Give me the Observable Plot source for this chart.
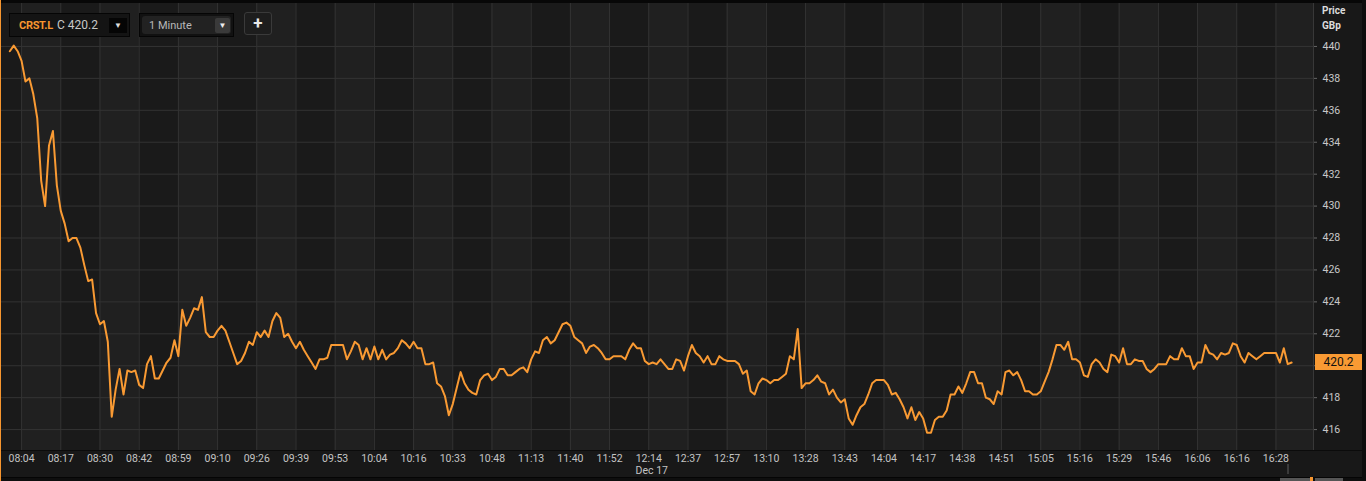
<!DOCTYPE html>
<html><head><meta charset="utf-8">
<script src="https://cdn.jsdelivr.net/npm/d3@7"></script>
<script src="https://cdn.jsdelivr.net/npm/@observablehq/plot@0.6"></script>
<style>
html,body{margin:0;padding:0;background:#121212;}
#wrap{position:relative;width:1366px;height:481px;overflow:hidden;font-family:Roboto,"Noto Sans",sans-serif;}
#wrap svg{position:absolute;left:0;top:0;}
.box{position:absolute;box-sizing:border-box;}
#b1{left:9px;top:13px;width:121px;height:24px;background:#141414;border:1px solid #050505;}
#b1 .tk{position:absolute;left:9px;top:5px;color:#f7962f;font-weight:bold;font-size:11px;letter-spacing:-0.3px;}
#b1 .cl{position:absolute;left:47px;top:4px;color:#c8c8c8;font-size:12px;}
#b1 .dd{position:absolute;left:99px;top:4px;width:18px;height:15px;background:#050505;color:#ddd;font-size:8px;text-align:center;line-height:15px;}
#b2{left:139px;top:13px;width:95px;height:24px;background:#111;border:1px solid #050505;}
#b2 .in{position:absolute;left:2px;top:2px;right:2px;bottom:2px;background:#222;border-radius:3px;}
#b2 .tx{position:absolute;left:9px;top:5px;color:#b8b8b8;font-size:11px;}
#b2 .dd{position:absolute;left:75px;top:4px;width:15px;height:15px;background:#3a3a3a;border-radius:2px;color:#eee;font-size:8px;text-align:center;line-height:15px;}
#b3{left:244px;top:12px;width:28px;height:23px;background:#1d1d1d;border:1px solid #3a3a3a;border-radius:3px;color:#e8e8e8;font-size:17px;font-weight:bold;text-align:center;line-height:21px;}
#hdr{position:absolute;left:1322px;top:3px;color:#dcdcdc;font-size:10px;font-weight:bold;line-height:15px;}
#badge{position:absolute;left:1315px;width:47px;height:16px;background:#f99a33;color:#111;font-size:12px;text-align:center;line-height:16px;}
#lborder{position:absolute;left:0;top:0;width:1px;height:481px;background:#f7962f;}
#topband{position:absolute;left:0;top:0;width:1366px;height:3px;background:#070707;}
#rborder{position:absolute;left:1362px;top:0;width:4px;height:481px;background:#0d0d0d;}
#botband{position:absolute;left:0;top:477px;width:1366px;height:4px;background:#0e0e0e;border-top:1px solid #050505;}
#sb1{position:absolute;left:1280px;top:478px;width:30px;height:3px;background:#555;}
#sb2{position:absolute;left:1310px;top:477px;width:3px;height:4px;background:#f7962f;}
#sb3{position:absolute;left:1315px;top:478px;width:28px;height:3px;background:#555;}
#grip{position:absolute;left:1287px;top:464px;width:2px;height:10px;background:#3a3a3a;}
</style></head><body><div id="wrap"></div>
<script>
const ticker = "CRST.L";
const closeLabel = "C 420.2";
const intervalLabel = "1 Minute";
const axisTitle = ["Price", "GBp"];
const dateLabel = "Dec 17";
const yTicks = [416, 418, 420, 422, 424, 426, 428, 430, 432, 434, 436, 438, 440];
const timeLabels = ["08:04","08:17","08:30","08:42","08:59","09:10","09:26","09:39","09:53","10:04","10:16","10:33","10:48","11:13","11:40","11:52","12:14","12:37","12:57","13:10","13:28","13:43","14:04","14:17","14:38","14:51","15:05","15:16","15:29","15:46","16:06","16:16","16:28"];
const timeLabelBars = [3,13,23,33,43,53,63,73,83,93,103,113,123,133,143,153,163,173,183,193,203,213,223,233,243,253,263,273,283,293,303,313,323];
const prices = [
439.7,440.05,439.7,439.1,437.8,438.0,437.0,435.5,431.6,430.0,
433.8,434.7,431.3,429.7,428.9,427.8,428.0,428.0,427.4,426.3,
425.3,425.4,423.3,422.6,422.8,421.5,416.8,418.5,419.8,418.2,
419.7,419.6,419.7,418.8,418.6,420.1,420.6,419.2,419.2,419.7,
420.2,420.5,421.6,420.6,423.5,422.5,423.0,423.6,423.5,424.3,
422.1,421.8,421.8,422.2,422.5,422.2,421.5,420.8,420.1,420.3,
420.8,421.5,421.3,422.1,421.8,422.2,421.8,422.8,423.3,423.0,
421.8,422.0,421.5,421.1,421.5,421.0,420.6,420.2,419.8,420.4,
420.4,420.5,421.3,421.3,421.3,421.3,420.4,420.9,421.5,421.3,
420.4,421.1,420.4,421.2,420.4,421.0,420.4,420.7,420.8,421.1,
421.6,421.4,421.1,421.5,421.1,421.1,420.1,420.1,420.2,418.9,
418.7,418.1,416.9,417.6,418.6,419.6,418.9,418.5,418.3,418.2,
419.1,419.4,419.5,419.1,419.3,419.8,419.8,419.4,419.4,419.6,
419.8,419.9,419.6,420.4,420.9,420.8,421.6,421.8,421.4,421.6,
422.1,422.6,422.7,422.5,421.8,421.6,421.4,420.8,421.2,421.3,
421.1,420.8,420.4,420.4,420.6,420.6,420.6,420.4,421.0,421.4,
421.1,421.1,420.3,420.1,420.2,420.1,420.4,420.1,419.8,419.8,
420.4,420.3,419.7,420.6,421.3,420.8,420.6,420.2,420.6,420.1,
420.1,420.6,420.4,420.3,420.3,420.3,420.1,419.5,419.7,418.4,
418.2,418.9,419.2,419.1,418.9,419.1,419.1,419.3,419.5,420.6,
420.4,422.3,418.6,418.9,418.9,419.1,419.4,419.0,418.9,418.2,
418.5,418.0,417.7,417.9,416.7,416.3,416.9,417.4,417.6,418.2,
418.9,419.1,419.1,419.1,418.8,418.2,418.3,417.9,417.4,416.7,
417.4,416.6,417.1,416.7,415.8,415.8,416.6,416.8,416.8,417.2,
418.2,418.2,418.7,418.3,418.9,419.6,419.6,418.9,418.9,418.0,
417.9,417.6,418.4,418.2,419.6,419.7,419.4,419.6,419.1,418.4,
418.4,418.2,418.2,418.4,419.0,419.6,420.4,421.3,421.3,421.0,
421.5,420.4,420.4,420.2,419.4,419.3,420.1,420.4,420.2,419.8,
419.6,420.7,420.6,420.2,421.1,420.1,420.1,420.4,420.3,420.3,
419.8,419.6,419.8,420.1,420.1,420.1,420.6,420.4,420.4,421.1,
420.6,420.6,419.8,420.2,420.2,421.3,420.8,420.7,420.4,420.8,
420.7,420.8,421.4,421.3,420.6,420.2,420.8,420.6,420.4,420.6,
420.8,420.8,420.8,420.8,420.2,421.1,420.1,420.2
];

const data = prices.map((p, i) => ({bar: i, price: p}));
const last = prices[prices.length - 1];
const xDomain = [-2.12, 332.58];
const labelOf = new Map(timeLabelBars.map((b, k) => [b, timeLabels[k]]));
// the last-price badge hides the tick label it sits on
const labelTicks = yTicks.filter(t => Math.abs(t - last) > 0.6);

// alternating column bands between the time gridlines
const edges = [xDomain[0], ...timeLabelBars, xDomain[1]];
const bands = edges.slice(0, -1).map((b, k) => ({x1: b, x2: edges[k + 1], k}));

const chart = Plot.plot({
  width: 1366, height: 481,
  marginLeft: 1, marginRight: 53, marginTop: 3, marginBottom: 31,
  style: {background: "#181818", color: "#c8c8c8", fontFamily: "Roboto, 'Noto Sans', sans-serif"},
  x: {domain: xDomain, axis: null},
  y: {domain: [414.69, 442.69], axis: null},
  marks: [
    Plot.frame({fill: "#1c1c1c", stroke: null}),
    Plot.rectX(bands, {x1: "x1", x2: "x2", fill: d => d.k % 2 ? "#202020" : "#1a1a1a"}),
    Plot.ruleY(yTicks, {stroke: "#333333", strokeWidth: 1}),
    Plot.ruleX(timeLabelBars, {stroke: "#333333", strokeWidth: 1}),
    Plot.frame({anchor: "right", stroke: "#383838"}),
    Plot.line(data, {x: "bar", y: "price", stroke: "#f99a33", strokeWidth: 2, strokeLinejoin: "round"}),
    Plot.axisY(yTicks, {anchor: "right", tickSize: 3, text: null, stroke: "#666", label: null}),
    Plot.axisY(labelTicks, {anchor: "right", tickSize: 0, tickPadding: 9, fontSize: 10.5, fill: "#c8c8c8", label: null}),
    Plot.axisX(timeLabelBars, {anchor: "bottom", tickSize: 0, tickPadding: 4, fontSize: 10.5, fill: "#c4c4c4",
      tickFormat: b => labelOf.get(b), label: null}),
    Plot.text([dateLabel], {x: timeLabelBars[16], frameAnchor: "bottom", dy: 23, dx: 3, fontSize: 10.5, fill: "#c4c4c4"})
  ]
});

const wrap = document.getElementById("wrap");
wrap.appendChild(chart);
// bottom frame edge drawn across the full width (incl. price panel)
const svg = d3.select(chart);
svg.append("line").attr("x1", 0).attr("x2", 1366).attr("y1", 450.5).attr("y2", 450.5).attr("stroke", "#0b0b0b");

const html = `
<div id="topband"></div>
<div id="botband"></div>
<div id="rborder"></div>
<div id="lborder"></div>
<div id="grip"></div>
<div id="sb1"></div><div id="sb2"></div><div id="sb3"></div>
<div class="box" id="b1"><span class="tk">${ticker}</span><span class="cl">${closeLabel}</span><span class="dd">&#9660;</span></div>
<div class="box" id="b2"><div class="in"></div><span class="tx">${intervalLabel}</span><span class="dd">&#9660;</span></div>
<div class="box" id="b3">+</div>
<div id="hdr">${axisTitle[0]}<br>${axisTitle[1]}</div>
`;
wrap.insertAdjacentHTML("beforeend", html);
const yPos = chart.scale("y").apply(last);
const badge = document.createElement("div");
badge.id = "badge";
badge.textContent = last.toFixed(1);
badge.style.top = (yPos - 8) + "px";
wrap.appendChild(badge);
</script>
</body></html>
